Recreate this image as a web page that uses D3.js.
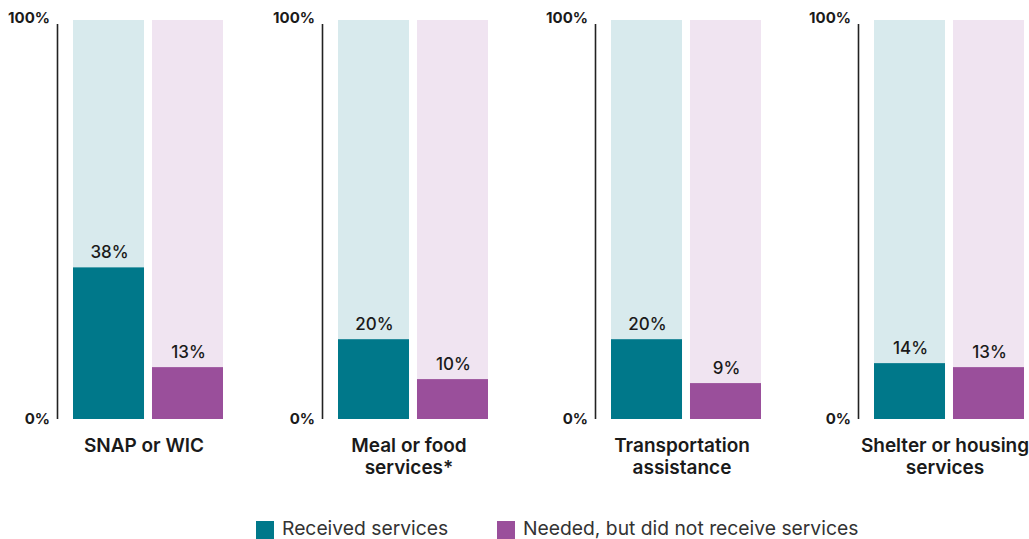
<!DOCTYPE html>
<html>
<head>
<meta charset="utf-8">
<script src="https://cdn.jsdelivr.net/npm/d3@7"></script>
<style>
  html, body { margin: 0; padding: 0; background: #fff; }
  svg { display: block; font-family: Inter, "Open Sans", sans-serif; }
</style>
</head>
<body>
<svg id="chart" width="1029" height="539"></svg>
<script>
// Services received vs. needed but not received, by service type
const categories = ["SNAP or WIC", "Meal or food services*", "Transportation assistance", "Shelter or housing services"];
const categoryLines = [["SNAP or WIC"], ["Meal or food", "services*"], ["Transportation", "assistance"], ["Shelter or housing", "services"]];
const series = ["Received services", "Needed, but did not receive services"];
const received = [38, 20, 20, 14];
const needed = [13, 10, 9, 13];
const tickValues = [0, 100];
const tickLabels = ["0%", "100%"];

// layout
const W = 1029, H = 539;
const panelLeft = [57, 322, 595, 858];   // x of each panel's axis line
const colors = {
  received: "#00788a", needed: "#9a4f9b",
  receivedBg: "#d8eaed", neededBg: "#f0e4f1",
  text: "#1a1a1a"
};

const svg = d3.select("#chart");

const y = d3.scaleLinear().domain([0, 100]).range([419, 20]);
const xInner = d3.scaleBand().domain(["received", "needed"]).range([16, 166]).paddingInner(0.101).paddingOuter(0);

const rows = categories.map((c, i) => ({ cat: c, lines: categoryLines[i], received: received[i], needed: needed[i], left: panelLeft[i] }));

const panels = svg.selectAll("g.panel").data(rows).join("g")
  .attr("class", "panel")
  .attr("transform", d => `translate(${d.left},0)`);

// axis with 0% and 100% labels
panels.each(function () {
  const g = d3.select(this).append("g").attr("class", "axis");
  g.call(d3.axisLeft(y).tickValues(tickValues).tickSize(0).tickPadding(7)
    .tickFormat((d, i) => tickLabels[i]));
  g.select(".domain").attr("d", `M0.5,${y(100) + 4}V${y(0)}`).attr("stroke", "#222").attr("stroke-width", 1.6);
  g.selectAll(".tick text")
    .attr("font-family", "Inter, sans-serif")
    .attr("font-size", 15).attr("font-weight", 700).attr("fill", colors.text)
    .attr("dy", "0.3em");
  g.selectAll(".tick").filter(d => d === 100).select("text").attr("dy", "0.15em");
});

const keys = [
  { key: "received", fill: colors.received, bg: colors.receivedBg },
  { key: "needed", fill: colors.needed, bg: colors.neededBg }
];

// full-height background bars
panels.selectAll("rect.bg").data(d => keys.map(k => ({ ...k, v: d[k.key] }))).join("rect")
  .attr("class", "bg")
  .attr("x", d => xInner(d.key))
  .attr("width", xInner.bandwidth())
  .attr("y", y(100))
  .attr("height", y(0) - y(100))
  .attr("fill", d => d.bg);

// value bars
panels.selectAll("rect.val").data(d => keys.map(k => ({ ...k, v: d[k.key] }))).join("rect")
  .attr("class", "val")
  .attr("x", d => xInner(d.key))
  .attr("width", xInner.bandwidth())
  .attr("y", d => y(d.v))
  .attr("height", d => y(0) - y(d.v))
  .attr("fill", d => d.fill);

// value labels
panels.selectAll("text.vlabel").data(d => keys.map(k => ({ ...k, v: d[k.key] }))).join("text")
  .attr("class", "vlabel")
  .attr("x", d => xInner(d.key) + xInner.bandwidth() / 2 + 1)
  .attr("y", d => y(d.v) - 9)
  .attr("text-anchor", "middle")
  .attr("font-size", 17).attr("font-weight", 500).attr("fill", colors.text)
  .text(d => d.v + "%");

// category labels
panels.each(function (d) {
  const cx = (xInner.range()[0] + xInner.range()[1]) / 2 - 4;
  const t = d3.select(this).append("text")
    .attr("text-anchor", "middle")
    .attr("font-size", 19).attr("font-weight", 600).attr("fill", colors.text);
  d.lines.forEach((line, j) => {
    t.append("tspan").attr("x", cx).attr("y", 452 + j * 21.5).text(line);
  });
});

// legend
const legend = svg.append("g").attr("class", "legend");
const legendItems = [
  { label: series[0], fill: colors.received, x: 256 },
  { label: series[1], fill: colors.needed, x: 497 }
];
const li = legend.selectAll("g").data(legendItems).join("g")
  .attr("transform", d => `translate(${d.x},0)`);
li.append("rect").attr("x", 0).attr("y", 521).attr("width", 18).attr("height", 18).attr("fill", d => d.fill);
li.append("text").attr("x", 26).attr("y", 535)
  .attr("font-size", 19.3).attr("font-weight", 400).attr("fill", "#333")
  .text(d => d.label);
</script>
</body>
</html>
